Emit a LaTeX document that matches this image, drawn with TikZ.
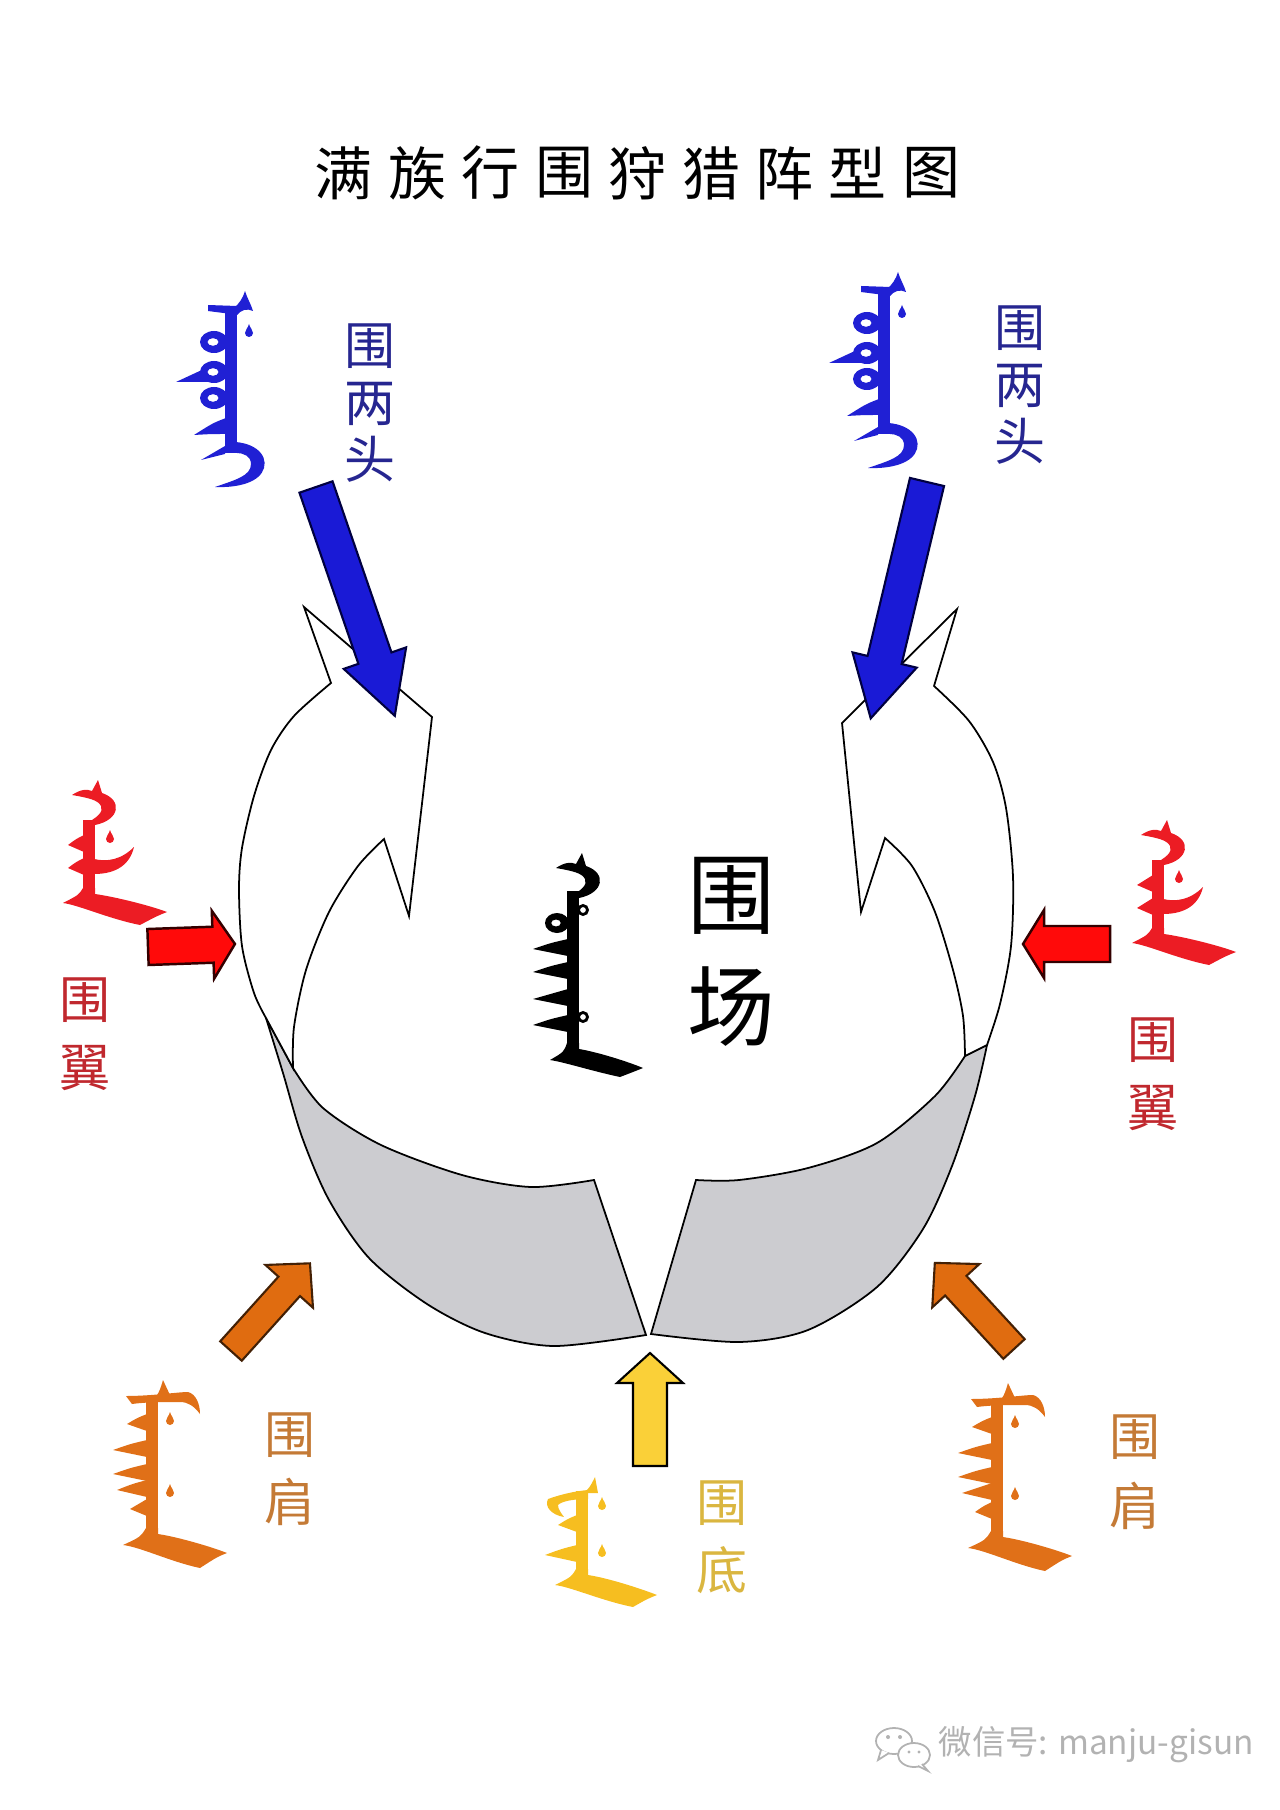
\documentclass[tikz,border=0pt]{standalone}
\usepackage{fontspec}
\newfontfamily\cjk{Noto Sans CJK SC}
\definecolor{RibbonGrey}{HTML}{CCCCD0}
\definecolor{ArrowBlue}{HTML}{1A1AD6}
\definecolor{ArrowRed}{HTML}{FF0A0A}
\definecolor{ArrowOrange}{HTML}{E06C10}
\definecolor{ArrowYellow}{HTML}{FAD038}
\definecolor{ManchuBlue}{HTML}{2020D4}
\definecolor{ManchuRed}{HTML}{EC1C24}
\definecolor{ManchuOrange}{HTML}{E07018}
\definecolor{ManchuYellow}{HTML}{F6BE20}
\definecolor{LabelBlue}{HTML}{262690}
\definecolor{LabelRed}{HTML}{C0282E}
\definecolor{LabelOrange}{HTML}{C47A36}
\definecolor{LabelYellow}{HTML}{DAB640}

% block arrow: style, tail, angle, length, shaft half width, head half width, head length
\newcommand{\blockarrow}[7]{%
  \begin{scope}[shift={#2}, rotate=#3]
    \filldraw[#1] (0,-#5) -- ({#4-#7},-#5) -- ({#4-#7},-#6) -- (#4,0)
      -- ({#4-#7},#6) -- ({#4-#7},#5) -- (0,#5) -- cycle;
  \end{scope}}

% manchu strokes, local px with y down
\newcommand{\mjstem}[2]{\fill (-6,#1) rectangle (6,#2);}
\newcommand{\mjtooth}[2]{\fill (-5,#1-8) .. controls ({(#2-5)/2},#1-4) .. (#2,#1+2)
  .. controls ({(#2-5)/2},#1+5) .. (-5,#1+9) -- cycle;}
\newcommand{\mjdrop}[2]{\fill (#1,#2-8) .. controls (#1+1,#2-4) and (#1+4,#2-2) .. (#1+4,#2+1)
  arc[start angle=0, end angle=180, radius=4] .. controls (#1-4,#2-2) and (#1-1,#2-4) .. (#1,#2-8) -- cycle;}
\newcommand{\mjring}[2]{\draw[line width=0.8pt] (#1,#2) circle[radius=4.5];}
\newcommand{\mjloop}[4]{\fill[even odd rule] (#1,#2) ellipse[x radius=#3, y radius=#4]
  ({#1-1},#2) ellipse[x radius={#3*0.4}, y radius={#4*0.35}];}
\newcommand{\mjcrescent}{\fill (-17,15) .. controls (-8,9) and (-2,9) .. (3,11) -- (9,0) -- (13,13)
  .. controls (34,20) and (31,40) .. (6,45) -- (-6,45) .. controls (8,38) and (15,32) .. (12,26)
  .. controls (9,20) and (0,18) .. (-17,15) -- cycle;}
\newcommand{\mjtail}[7]{\fill (-6,#1-6) -- (6,#1-6) -- (6,#1)
  .. controls ({#4*0.35},#1+3) and ({#4*0.8},#5-6) .. (#4,#5)
  .. controls ({#4-10},#5+4) .. (#6,#7)
  .. controls ({#6*0.4},#7-6) and ({#2*0.4},#3+2) .. (#2,#3)
  .. controls ({#2*0.4},#3-8) .. (-6,#1-6) -- cycle;}

\newcommand{\glyphuturi}{% uturi
  \mjstem{14}{160}
  \fill (-23,13) -- (6,14) -- (6,23) .. controls (-6,21) and (-16,20) .. (-23,19) -- cycle;
  \fill (2,17) .. controls (8,12) and (12,6) .. (14,-1) .. controls (16,6) and (20,12) .. (22,19)
    .. controls (16,16) and (10,18) .. (6,23) -- cycle;
  \mjdrop{18}{40}
  \mjloop{-17}{50}{14}{11}
  \mjloop{-17}{80}{14}{11}
  \fill (-27,77) -- (-55,90) -- (-22,90) -- cycle;
  \mjloop{-17}{106}{14}{11}
  \fill (-5,126) .. controls (-18,131) .. (-37,143) .. controls (-20,142) .. (-5,142) -- cycle;
  \fill (-6,150) .. controls (22,148) and (37,162) .. (33,176) .. controls (29,190) and (8,196) .. (-16,195)
    .. controls (4,188) and (20,184) .. (20,172) .. controls (20,164) and (12,161) .. (6,161) -- (-6,161) -- cycle;
  \fill (-6,154) -- (-30,168) -- (-6,162) -- cycle;}
\newcommand{\glyphwing}{%
  \mjcrescent
  \mjstem{40}{114}
  \mjdrop{21}{58}
  \mjtooth{63}{-21}
  \mjtooth{86}{-21}
  \fill (5,79) .. controls (18,82) and (32,80) .. (45,67) .. controls (41,84) and (28,94) .. (5,94) -- cycle;
  \mjtail{114}{-26}{123}{78}{132}{51}{145}}
\newcommand{\glyphfield}{%
  \mjcrescent
  \mjstem{38}{196}
  \mjring{10}{57}
  \mjloop{-16}{70}{12}{10}
  \foreach \ty in {94,117,144,170} {\mjtooth{\ty}{-40}}
  \mjring{10}{164}
  \mjtail{196}{-23}{207}{70}{215}{47}{224}}
\newcommand{\glyphshoulder}{%
  \mjstem{16}{154}
  \fill (-26,16) .. controls (0,16) and (26,12) .. (36,12) .. controls (44,14) and (48,24) .. (48,34)
    .. controls (42,26) and (36,22) .. (28,22) .. controls (14,22) and (-6,22) .. (-20,24) -- cycle;
  \fill (4,17) .. controls (8,10) .. (11,0) .. controls (14,8) .. (18,15) -- cycle;
  \mjdrop{18}{40}
  \mjdrop{18}{112}
  \mjtooth{42}{-25}
  \mjtooth{68}{-39}
  \mjtooth{92}{-39}
  \mjtooth{108}{-35}
  \mjtooth{127}{-22}
  \mjtail{154}{-29}{165}{75}{173}{48}{188}}
\newcommand{\glyphbottom}{%
  \mjstem{14}{98}
  \fill (6,13) -- (6,22) .. controls (-8,22) and (-20,24) .. (-24,28) .. controls (-24,32) and (-21,36) .. (-18,40)
    .. controls (-30,38) and (-38,30) .. (-34,22) .. controls (-20,17) and (-6,14) .. (6,13) -- cycle;
  \fill (2,16) .. controls (8,10) .. (13,0) .. controls (14,8) .. (16,16) -- cycle;
  \mjdrop{20}{28}
  \mjdrop{20}{75}
  \mjtooth{46}{-24}
  \mjtooth{76}{-37}
  \mjtail{98}{-27}{108}{75}{118}{51}{130}}

\begin{document}
\begin{tikzpicture}[x=0.01cm, y=-0.01cm,
  titlechar/.style={font=\cjk\fontsize{16.5}{18}\selectfont, inner sep=0pt},
  lbl/.style={font=\cjk\fontsize{14.5}{#1}\selectfont, align=center, inner sep=0pt},
  lbl/.default=16.2pt,
  biglbl/.style={font=\cjk\fontsize{25}{32}\selectfont, align=center, inner sep=0pt},
  ribbonface/.style={fill=white, draw=black, line width=0.5pt},
  ribbonback/.style={fill=RibbonGrey, draw=black, line width=0.5pt},
  blueblock/.style={fill=ArrowBlue, draw=black!75!blue, line width=0.6pt},
  redblock/.style={fill=ArrowRed, draw=black!80!red, line width=0.7pt},
  orangeblock/.style={fill=ArrowOrange, draw=black!70!ArrowOrange, line width=0.6pt},
  yellowblock/.style={fill=ArrowYellow, draw=black, line width=0.6pt},
  wmark/.style={font=\cjk\fontsize{9.5}{11}\selectfont, text=gray!60, inner sep=0pt},
  icon/.style={draw=gray!60, fill=white, line width=0.5pt},
]
  \useasboundingbox (0,0) rectangle (1280,1810);

  \foreach \ch [count=\i] in {满,族,行,围,狩,猎,阵,型,图}
    \node[titlechar] (title\i) at ({344+(\i-1)*73.4},173) {\ch};

  % left wing of the ring
  \filldraw[ribbonback] (266,1018) -- (293,1068) -- plot[smooth] coordinates {(293,1068) (323,1108)
    (381,1145) (462,1175) (531,1187) (594,1180)} -- (646,1335) -- plot[smooth] coordinates
    {(646,1335) (554,1346) (485,1333) (427,1304) (369,1258) (329,1200) (302,1137) (283,1073) (266,1018)} -- cycle;
  \filldraw[ribbonface] (266,1018) -- plot[smooth] coordinates {(266,1018) (254,993) (242,946) (239,889)
    (242,848) (254,796) (271,750) (294,716) (331,683)} -- (304,607) -- (432,717) -- (409,916) -- (384,839)
    -- plot[smooth] coordinates {(384,839) (358,866) (329,912) (306,970) (294,1027) (293,1068)} -- cycle;
  % right wing of the ring
  \filldraw[ribbonback] (987,1045) -- (965,1056) -- plot[smooth] coordinates {(965,1056) (935,1096)
    (877,1143) (808,1168) (739,1180) (696,1180)} -- (651,1334) -- plot[smooth] coordinates
    {(651,1334) (739,1342) (808,1330) (877,1287) (923,1229) (952,1166) (975,1096) (987,1045)} -- cycle;
  \filldraw[ribbonface] (987,1045) -- plot[smooth] coordinates {(987,1045) (1000,1004) (1011,946) (1013,877)
    (1006,808) (993,762) (969,721) (934,686)} -- (957,609) -- (842,723) -- (861,912) -- (885,838)
    -- plot[smooth] coordinates {(885,838) (912,866) (935,912) (953,970) (963,1016) (965,1056)} -- cycle;

  \blockarrow{blueblock}{(316,487)}{-71}{242}{17.5}{33}{61}
  \blockarrow{blueblock}{(927,482)}{-103.4}{243}{17.5}{33}{60}
  \blockarrow{redblock}{(148,947)}{2}{87}{18}{34}{22}
  \blockarrow{redblock}{(1110,944)}{180}{87}{18}{34}{21}
  \blockarrow{orangeblock}{(231,1351)}{48}{118}{14.5}{32}{31}
  \blockarrow{orangeblock}{(1014,1349)}{132.6}{117}{14.5}{32}{31}
  \blockarrow{yellowblock}{(650,1466)}{90}{113}{17}{33}{30}

  % manchu words
  \begin{scope}[shift={(231,292)}, color=ManchuBlue] \glyphuturi \end{scope}
  \begin{scope}[shift={(884,273)}, color=ManchuBlue] \glyphuturi \end{scope}
  \begin{scope}[shift={(89,780)}, color=ManchuRed] \glyphwing \end{scope}
  \begin{scope}[shift={(1158,820)}, color=ManchuRed] \glyphwing \end{scope}
  \begin{scope}[shift={(573,853)}, color=black] \glyphfield \end{scope}
  \begin{scope}[shift={(152,1380)}, color=ManchuOrange] \glyphshoulder \end{scope}
  \begin{scope}[shift={(997,1383)}, color=ManchuOrange] \glyphshoulder \end{scope}
  \begin{scope}[shift={(582,1477)}, color=ManchuYellow] \glyphbottom \end{scope}

  \node[lbl, text=LabelBlue] (headL) at (370,403) {围\\两\\头};
  \node[lbl, text=LabelBlue] (headR) at (1020,385) {围\\两\\头};
  \node[lbl=19.4pt, text=LabelRed] (wingL) at (85,1034) {围\\翼};
  \node[lbl=19.4pt, text=LabelRed] (wingR) at (1153,1074) {围\\翼};
  \node[biglbl] (field) at (731,952) {围\\场};
  \node[lbl=19.2pt, text=LabelOrange] (shoulderL) at (290,1469) {围\\肩};
  \node[lbl=20pt, text=LabelOrange] (shoulderR) at (1135,1472) {围\\肩};
  \node[lbl=19.4pt, text=LabelYellow] (bottomlbl) at (722,1537) {围\\底};

  % watermark
  \filldraw[icon] (894,1741) ellipse[x radius=18, y radius=13];
  \filldraw[icon] (881,1750) -- (878,1760) -- (889,1753);
  \filldraw[icon] (914,1755) ellipse[x radius=16, y radius=12];
  \filldraw[icon] (922,1764) -- (928,1771) -- (918,1766);
  \fill[gray!60] (888,1737) circle[radius=2] (900,1737) circle[radius=2]
    (909,1752) circle[radius=1.6] (919,1752) circle[radius=1.6];
  \node[wmark, anchor=west] (wechat) at (938,1745) {微信号: manju-gisun};
\end{tikzpicture}
\end{document}
